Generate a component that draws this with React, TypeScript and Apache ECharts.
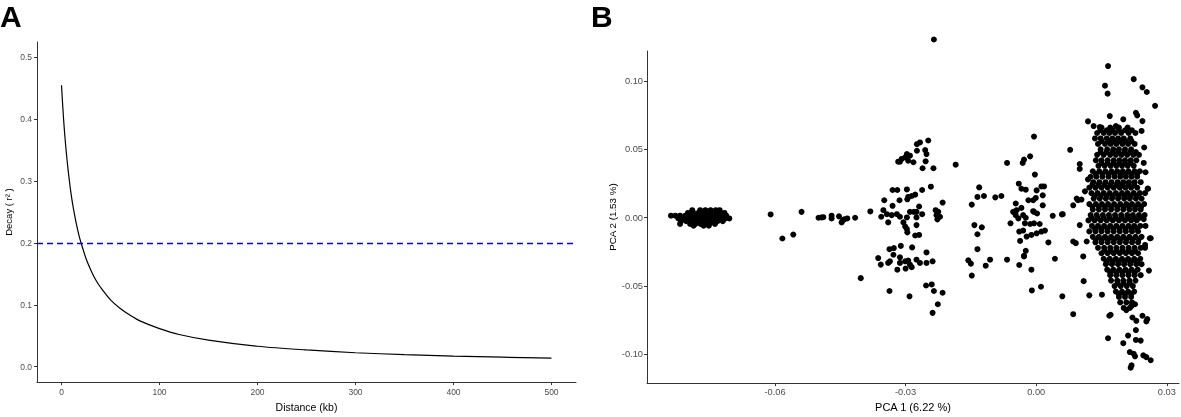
import React, { useEffect, useRef } from "react";
import * as echarts from "echarts";

// ---------- Panel A: LD decay ----------
const distanceKb = [0, 2, 4, 6, 8, 10, 12, 15, 18, 20, 25, 30, 35, 40, 50, 60, 70, 80, 100, 120, 150, 200, 250, 300, 350, 400, 450, 500];
const decayR2 = [0.455, 0.403, 0.362, 0.329, 0.301, 0.277, 0.257, 0.232, 0.211, 0.2, 0.175, 0.156, 0.14, 0.128, 0.108, 0.094, 0.083, 0.074, 0.0615, 0.052, 0.043, 0.033, 0.027, 0.0225, 0.0194, 0.0171, 0.0153, 0.0138];
const thresholdR2 = 0.2;
const distanceTicks = [0, 100, 200, 300, 400, 500];
const decayTicks = [0, 0.1, 0.2, 0.3, 0.4, 0.5];

// ---------- Panel B: PCA ----------
const pc1Ticks = [-0.06, -0.03, 0, 0.03];
const pc2Ticks = [-0.1, -0.05, 0, 0.05, 0.1];

// dense western cluster: rows of [pc2, pc1 values]
const westRows: [number, number[]][] = [
  [0.0055, [-0.079, -0.0772, -0.076, -0.0748, -0.0736, -0.0727]],
  [0.0035, [-0.08, -0.0788, -0.0776, -0.0764, -0.0752, -0.074, -0.0728, -0.0716]],
  [0.0015, [-0.0839, -0.0829, -0.0818, -0.0806, -0.0794, -0.0782, -0.077, -0.0758, -0.0746, -0.0734, -0.0722, -0.0712]],
  [-0.0005, [-0.0822, -0.081, -0.0798, -0.0786, -0.0774, -0.0762, -0.075, -0.0738, -0.0726, -0.0714, -0.0705]],
  [-0.0025, [-0.0816, -0.0804, -0.0792, -0.078, -0.0768, -0.0756, -0.0744, -0.0732, -0.072]],
  [-0.0045, [-0.0818, -0.0795, -0.0783, -0.0771, -0.0759, -0.0751, -0.0738]],
  [-0.0058, [-0.0787, -0.0764, -0.0752]],
];

const midPoints: [number, number][] = [
  [-0.061, 0.0024], [-0.0539, 0.0043], [-0.0583, -0.0152], [-0.0558, -0.0123],
  [-0.05, 0.0], [-0.0493, 0.0002], [-0.0489, 0.0004], [-0.047, 0.0015], [-0.047, -0.0005], [-0.0453, 0.001],
  [-0.0447, -0.0034], [-0.0444, -0.0017], [-0.0441, -0.0012], [-0.0434, -0.0005], [-0.0416, 0.0],
  [-0.0403, -0.0442], [-0.0381, 0.0046],
  [-0.0274, 0.0538], [-0.0267, 0.0551], [-0.0248, 0.0565], [-0.0274, 0.049], [-0.0255, 0.0495], [-0.0252, 0.0466],
  [-0.0297, 0.0466], [-0.029, 0.0454], [-0.0301, 0.0442], [-0.0309, 0.043], [-0.0317, 0.041], [-0.0313, 0.041], [-0.0294, 0.0417], [-0.0282, 0.0406],
  [-0.0254, 0.0413], [-0.0261, 0.0362], [-0.0236, 0.0362], [-0.0185, 0.0388],
  [-0.033, 0.0203], [-0.0319, 0.0203], [-0.0297, 0.0207], [-0.0262, 0.0203], [-0.0242, 0.0227],
  [-0.0294, 0.0152], [-0.0286, 0.0159], [-0.0278, 0.0169], [-0.0296, 0.0135],
  [-0.0349, 0.0128], [-0.0314, 0.0128], [-0.0215, 0.0111],
  [-0.033, 0.0087], [-0.0269, 0.0082],
  [-0.0351, 0.0055], [-0.0343, 0.0026], [-0.0332, 0.0019], [-0.032, 0.0026], [-0.0313, 0.0007], [-0.029, 0.0043], [-0.0281, 0.0043], [-0.0275, 0.0043], [-0.0262, 0.0026], [-0.0297, 0.0002], [-0.0275, 0.0002],
  [-0.0356, 0.0007],
  [-0.0231, 0.0055], [-0.0225, 0.0043], [-0.0229, 0.0019], [-0.0221, 0.0007], [-0.0227, -0.0012],
  [-0.034, -0.0034],
  [-0.0305, -0.0034], [-0.0301, -0.0065], [-0.0297, -0.0083], [-0.0296, -0.0107], [-0.0275, -0.0054], [-0.0278, -0.013], [-0.0269, -0.0126],
  [-0.0337, -0.023], [-0.0327, -0.0222], [-0.0311, -0.0206], [-0.0285, -0.0217], [-0.0252, -0.0254],
  [-0.0363, -0.0295], [-0.034, -0.0331], [-0.0328, -0.0271], [-0.0313, -0.029], [-0.0357, -0.0343], [-0.0336, -0.0319],
  [-0.0313, -0.0331], [-0.0301, -0.0319], [-0.0294, -0.0314], [-0.029, -0.0343], [-0.0275, -0.0307], [-0.0267, -0.0331], [-0.0252, -0.0331], [-0.0238, -0.0319], [-0.03, -0.0372], [-0.0286, -0.0362], [-0.0319, -0.038],
  [-0.0337, -0.0536], [-0.0291, -0.0575], [-0.0253, -0.0496], [-0.024, -0.0488], [-0.0235, -0.0536], [-0.0215, -0.0549], [-0.0226, -0.0633], [-0.0238, -0.0696],
  [-0.0235, 0.1304],
];

const centerPoints: [number, number][] = [
  [-0.0131, 0.0222], [-0.0135, 0.0152], [-0.012, 0.0159], [-0.0148, 0.0096], [-0.0094, 0.0149], [-0.008, 0.0159],
  [-0.0067, 0.0401], [-0.0005, 0.0594], [-0.0031, 0.0401], [-0.0028, 0.0425], [-0.0014, 0.0449], [-0.0003, 0.0316],
  [-0.004, 0.0249], [-0.0034, 0.0212], [-0.0024, 0.0205], [0.0001, 0.02], [0.0012, 0.0229], [0.0018, 0.0229],
  [-0.0018, 0.0128], [-0.0007, 0.0128], [-0.0001, 0.0145], [0.0015, 0.0164], [0.0015, 0.0091],
  [-0.0047, 0.0104], [-0.0045, 0.0055], [-0.0034, 0.0072], [-0.003, 0.0019], [-0.0007, 0.0048],
  [0.0038, 0.0014], [0.0059, 0.0024],
  [-0.0142, -0.0054], [-0.0125, -0.007], [-0.0135, -0.0121], [-0.0135, -0.023],
  [-0.0156, -0.0312], [-0.015, -0.0336], [-0.0148, -0.0423], [-0.0116, -0.0351], [-0.0106, -0.0307],
  [-0.0067, -0.0307], [-0.0039, -0.0346], [-0.0028, -0.0278], [-0.0011, -0.038], [-0.001, -0.0532], [0.0011, -0.0505],
  [0.006, -0.0575], [0.0043, -0.03], [0.0028, -0.0181],
  [-0.0053, 0.0043], [-0.0047, 0.0019], [-0.0059, -0.0041], [-0.0041, -0.0005], [-0.0024, 0.0], [-0.0026, -0.0041], [-0.0014, -0.0046], [-0.0005, -0.0041], [0.0008, -0.0046], [-0.0005, 0.0043], [0.0002, 0.0031],
  [-0.0039, -0.0101], [-0.003, -0.0094], [-0.0037, -0.017], [-0.0022, -0.0138], [-0.0011, -0.0126], [0.0001, -0.0114], [0.0012, -0.0101], [0.002, -0.0094], [-0.0024, -0.0242], [-0.0028, -0.0283],
];

const eastSparse: [number, number][] = [
  [0.0078, 0.0497], [0.0165, 0.111], [0.0224, 0.1014], [0.0244, 0.0954], [0.0254, 0.092], [0.0158, 0.0966], [0.0164, 0.0908], [0.0273, 0.0819],
  [0.0169, 0.0744], [0.0229, 0.0768], [0.0232, 0.0749], [0.0244, 0.0707],
  [0.0119, 0.0705], [0.0132, 0.0671], [0.0146, 0.0664], [0.02, 0.072], [0.0183, 0.0671], [0.0242, 0.0635],
  [0.0248, 0.0514], [0.0247, 0.0401], [0.0251, 0.0333], [0.0256, 0.0214],
  [0.01, 0.0393], [0.01, 0.0357], [0.0119, 0.028], [0.0112, 0.0193], [0.0096, 0.0128], [0.0104, 0.0133], [0.0085, 0.0091],
  [0.0093, 0.014], [0.0061, 0.0026],
  [0.01, -0.0054], [0.0091, -0.0186], [0.0108, -0.0283], [0.0116, -0.0174], [0.0109, -0.0464], [0.0085, -0.0174],
  [0.0261, -0.015], [0.0257, 0.0212], [0.0259, -0.0387],
  [0.0085, -0.0706], [0.0122, -0.0568], [0.0151, -0.0563], [0.0168, -0.0717], [0.0171, -0.071], [0.0165, -0.0882],
  [0.02, -0.0918], [0.0211, -0.0862], [0.0215, -0.0983], [0.0224, -0.0996], [0.0227, -0.1014], [0.0217, -0.1097], [0.0219, -0.108],
  [0.0246, -0.1007], [0.0253, -0.102], [0.0263, -0.1043], [0.0229, -0.0894], [0.024, -0.0899], [0.0229, -0.0822],
  [0.0244, -0.0717], [0.0255, -0.0742], [0.0253, -0.0759], [0.0221, -0.073], [0.023, -0.0754],
  [0.0207, -0.0676], [0.0219, -0.0645], [0.0227, -0.0633],
  [0.0263, -0.015], [0.025, -0.0199], [0.0247, -0.001],
];

// dense eastern cluster: rows of [pc2, pc1 values]
const eastRows: [number, number[]][] = [
  [0.066, [0.015, 0.017, 0.019, 0.021]],
  [0.064, [0.0147, 0.0162, 0.0176, 0.019, 0.0204, 0.022]],
  [0.062, [0.014, 0.0155, 0.0168, 0.0181, 0.0195, 0.0212, 0.0228]],
  [0.058, [0.0135, 0.0148, 0.0162, 0.0175, 0.0188, 0.0201, 0.0216]],
  [0.056, [0.015, 0.0165, 0.0178, 0.0192, 0.0205, 0.0219]],
  [0.054, [0.0142, 0.0158, 0.0171, 0.0184, 0.0198, 0.0211, 0.0226]],
  [0.05, [0.0148, 0.0163, 0.0177, 0.019, 0.0204, 0.0218]],
  [0.048, [0.0148, 0.0162, 0.0176, 0.0189, 0.0203, 0.0216, 0.0229]],
  [0.046, [0.014, 0.0155, 0.017, 0.0183, 0.0196, 0.0209, 0.0223, 0.0236]],
  [0.042, [0.0137, 0.015, 0.0164, 0.0178, 0.0191, 0.0204, 0.0217, 0.023]],
  [0.04, [0.015, 0.0164, 0.0178, 0.0191, 0.0204, 0.0217]],
  [0.038, [0.0143, 0.0157, 0.0171, 0.0184, 0.0197, 0.021, 0.0224]],
  [0.034, [0.013, 0.0145, 0.0159, 0.0173, 0.0186, 0.0199, 0.0212, 0.0226, 0.0238]],
  [0.032, [0.0137, 0.0152, 0.0166, 0.0179, 0.0193, 0.0206, 0.0219, 0.0232]],
  [0.03, [0.0125, 0.0138, 0.0152, 0.0166, 0.018, 0.0193, 0.0206, 0.0219, 0.0232]],
  [0.026, [0.0131, 0.0145, 0.0159, 0.0173, 0.0187, 0.02, 0.0213, 0.0226, 0.024]],
  [0.024, [0.0129, 0.0143, 0.0157, 0.0171, 0.0185, 0.0198, 0.0212, 0.0225]],
  [0.022, [0.0122, 0.0136, 0.015, 0.0164, 0.0178, 0.0192, 0.0205, 0.0218, 0.0232]],
  [0.018, [0.0127, 0.0141, 0.0155, 0.0169, 0.0183, 0.0197, 0.021, 0.0224, 0.0238, 0.025]],
  [0.016, [0.0134, 0.0148, 0.0162, 0.0176, 0.019, 0.0204, 0.0217, 0.0231]],
  [0.014, [0.0132, 0.0146, 0.016, 0.0174, 0.0188, 0.0202, 0.0215, 0.0229, 0.0242]],
  [0.01, [0.0122, 0.0137, 0.0151, 0.0165, 0.0179, 0.0193, 0.0207, 0.022, 0.0234, 0.0248]],
  [0.008, [0.0129, 0.0144, 0.0158, 0.0172, 0.0186, 0.02, 0.0213, 0.0227, 0.0241]],
  [0.006, [0.013, 0.0144, 0.0158, 0.0172, 0.0186, 0.02, 0.0214, 0.0227, 0.024]],
  [0.002, [0.0125, 0.0139, 0.0153, 0.0167, 0.0181, 0.0195, 0.0209, 0.0222, 0.0236, 0.0249]],
  [0.0, [0.0127, 0.0141, 0.0155, 0.0169, 0.0183, 0.0197, 0.0211, 0.0225, 0.0239]],
  [-0.002, [0.012, 0.0134, 0.0148, 0.0162, 0.0176, 0.019, 0.0204, 0.0218, 0.0231]],
  [-0.006, [0.0128, 0.0142, 0.0156, 0.017, 0.0184, 0.0198, 0.0212, 0.0225, 0.0239, 0.0251]],
  [-0.008, [0.0135, 0.0149, 0.0163, 0.0177, 0.0191, 0.0205, 0.0219, 0.0232]],
  [-0.01, [0.0122, 0.0136, 0.015, 0.0164, 0.0178, 0.0192, 0.0206, 0.022, 0.0234]],
  [-0.014, [0.013, 0.0144, 0.0158, 0.0172, 0.0186, 0.02, 0.0214, 0.0228, 0.0242]],
  [-0.016, [0.0137, 0.0151, 0.0165, 0.0179, 0.0193, 0.0207, 0.0221, 0.0235]],
  [-0.018, [0.0136, 0.015, 0.0164, 0.0178, 0.0192, 0.0206, 0.022, 0.0234]],
  [-0.022, [0.0142, 0.0156, 0.017, 0.0184, 0.0198, 0.0212, 0.0226, 0.024, 0.025]],
  [-0.024, [0.0157, 0.0171, 0.0185, 0.0199, 0.0213, 0.0227]],
  [-0.026, [0.015, 0.0164, 0.0178, 0.0192, 0.0206, 0.022, 0.0234]],
  [-0.03, [0.0155, 0.0169, 0.0183, 0.0197, 0.0211, 0.0225, 0.0239]],
  [-0.032, [0.0162, 0.0176, 0.019, 0.0204, 0.0218, 0.0232]],
  [-0.034, [0.016, 0.0174, 0.0188, 0.0202, 0.0216, 0.023, 0.0242]],
  [-0.038, [0.0163, 0.0177, 0.0191, 0.0205, 0.0219, 0.0233]],
  [-0.04, [0.017, 0.0184, 0.0198, 0.0212, 0.0226]],
  [-0.042, [0.017, 0.0184, 0.0198, 0.0212, 0.0226, 0.024]],
  [-0.046, [0.0172, 0.0186, 0.02, 0.0214, 0.0228]],
  [-0.048, [0.0187, 0.0201, 0.0215]],
  [-0.05, [0.018, 0.0194, 0.0208, 0.0222]],
  [-0.054, [0.0183, 0.0197, 0.0211, 0.0225]],
  [-0.056, [0.019, 0.0204, 0.0218]],
  [-0.058, [0.019, 0.0204, 0.0218]],
  [-0.062, [0.0193, 0.0207, 0.022]],
  [-0.066, [0.0201, 0.0215]],
];

const FONT = "'Liberation Sans', Arial, Helvetica, sans-serif";

function rowsToPoints(rows: [number, number[]][]): [number, number][] {
  const out: [number, number][] = [];
  rows.forEach(([y, xs]) => xs.forEach((x) => out.push([x, y])));
  return out;
}

export default function App() {
  const ref = useRef<HTMLDivElement>(null);
  useEffect(() => {
    if (!ref.current) return;
    const chart = echarts.init(ref.current, undefined, { renderer: "svg" });
    const pcaData = [
      ...rowsToPoints(westRows),
      ...midPoints,
      ...centerPoints,
      ...eastSparse,
      ...rowsToPoints(eastRows),
    ];
    const axisLineStyle = { color: "#333333", width: 1 };
    chart.setOption({
      animation: false,
      textStyle: { fontFamily: FONT },
      graphic: [
        { type: "text", left: 0, top: 1, style: { text: "A", font: `bold 30px ${FONT}`, fill: "#000" } },
        { type: "text", left: 591, top: 1, style: { text: "B", font: `bold 30px ${FONT}`, fill: "#000" } },
      ],
      grid: [
        { left: 37, top: 42, width: 539, height: 342 },
        { left: 647, top: 51, width: 532, height: 335 },
      ],
      xAxis: [
        {
          gridIndex: 0, type: "value", min: -25, max: 525,
          name: "Distance (kb)", nameLocation: "middle", nameGap: 15,
          nameTextStyle: { color: "#000", fontSize: 10.5, fontFamily: FONT },
          axisLine: { onZero: false, lineStyle: axisLineStyle },
          axisTick: { show: true, length: 3, lineStyle: axisLineStyle, customValues: distanceTicks },
          axisLabel: { customValues: distanceTicks, color: "#4d4d4d", fontSize: 8.5, margin: 5, fontFamily: FONT },
          splitLine: { show: false },
        },
        {
          gridIndex: 1, type: "value", min: -0.0894, max: 0.0328,
          name: "PCA 1 (6.22 %)", nameLocation: "middle", nameGap: 16,
          nameTextStyle: { color: "#000", fontSize: 11, fontFamily: FONT },
          axisLine: { onZero: false, lineStyle: axisLineStyle },
          axisTick: { show: true, length: 3, lineStyle: axisLineStyle, customValues: pc1Ticks },
          axisLabel: { customValues: pc1Ticks, color: "#4d4d4d", fontSize: 9.3, margin: 4, fontFamily: FONT, formatter: (v: number) => v.toFixed(2) },
          splitLine: { show: false },
        },
      ],
      yAxis: [
        {
          gridIndex: 0, type: "value", min: -0.025, max: 0.525,
          name: "Decay ( r² )", nameLocation: "middle", nameGap: 24,
          nameTextStyle: { color: "#000", fontSize: 9.5, fontFamily: FONT },
          axisLine: { show: true, onZero: false, lineStyle: axisLineStyle },
          axisTick: { show: true, length: 3, lineStyle: axisLineStyle, customValues: decayTicks },
          axisLabel: { customValues: decayTicks, color: "#4d4d4d", fontSize: 8.5, margin: 5, fontFamily: FONT, formatter: (v: number) => v.toFixed(1) },
          splitLine: { show: false },
        },
        {
          gridIndex: 1, type: "value", min: -0.121, max: 0.122,
          name: "PCA 2 (1.53 %)", nameLocation: "middle", nameGap: 28,
          nameTextStyle: { color: "#000", fontSize: 9.8, fontFamily: FONT },
          axisLine: { show: true, onZero: false, lineStyle: axisLineStyle },
          axisTick: { show: true, length: 3, lineStyle: axisLineStyle, customValues: pc2Ticks },
          axisLabel: { customValues: pc2Ticks, color: "#4d4d4d", fontSize: 9.3, margin: 4, fontFamily: FONT, formatter: (v: number) => v.toFixed(2) },
          splitLine: { show: false },
        },
      ],
      series: [
        {
          type: "line", xAxisIndex: 0, yAxisIndex: 0,
          data: distanceKb.map((d, i) => [d, decayR2[i]]),
          smooth: 0.3, showSymbol: false, symbol: "none",
          lineStyle: { color: "#000", width: 1.2 },
          markLine: {
            silent: true, symbol: "none", label: { show: false },
            lineStyle: { color: "#0000FF", type: [6, 4], width: 1.3 },
            data: [{ yAxis: thresholdR2 }],
          },
        },
        {
          type: "scatter", xAxisIndex: 1, yAxisIndex: 1,
          data: pcaData, symbolSize: 6, clip: false,
          itemStyle: { color: "#000", opacity: 1 },
        },
      ],
    });
    return () => chart.dispose();
  }, []);
  return <div ref={ref} style={{ position: "fixed", left: 0, top: 0, width: 1181, height: 417 }} />;
}
